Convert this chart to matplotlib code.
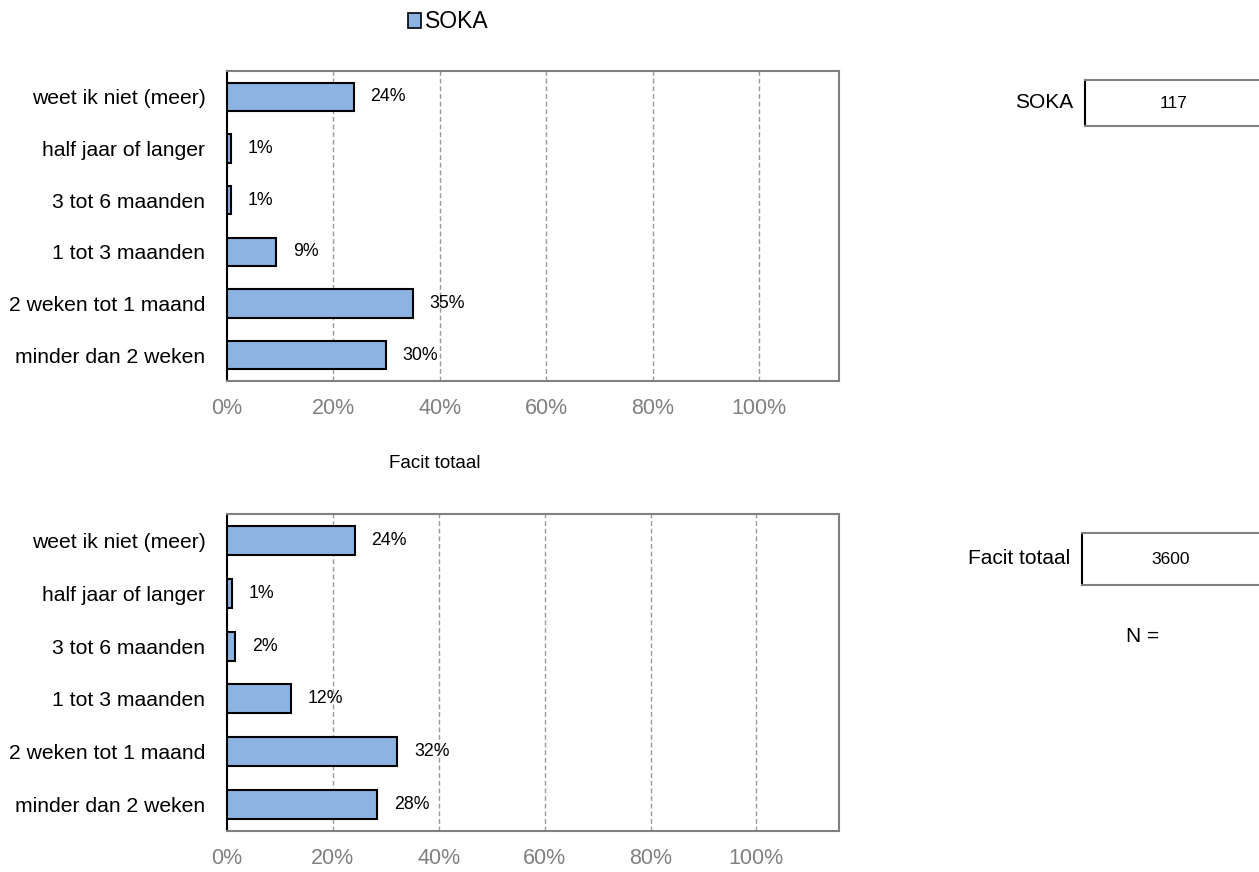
import matplotlib
matplotlib.use("Agg")
import matplotlib.pyplot as plt
from matplotlib.lines import Line2D
from matplotlib.patches import Patch

plt.rcParams['font.family'] = ['Liberation Sans', 'DejaVu Sans']

# === DATOS ===
categories = ["weet ik niet (meer)", "half jaar of langer", "3 tot 6 maanden",
              "1 tot 3 maanden", "2 weken tot 1 maand", "minder dan 2 weken"]
soka_values = [23.8, 0.8, 0.8, 9.3, 34.9, 29.9]
facit_values = [24.1, 1.0, 1.6, 12.0, 32.2, 28.4]
soka_n = 117
facit_n = 3600
xticks = [0, 20, 40, 60, 80, 100]

BAR_COLOR = "#8DB3E2"
W, H = 1259, 872


def px(x0, y0, x1, y1):
    # caja en pixeles (origen arriba-izq) -> rect de figura
    return [x0 / W, 1 - y1 / H, (x1 - x0) / W, (y1 - y0) / H]


fig = plt.figure(figsize=(W / 100, H / 100), dpi=100)


def draw_panel(rect, values, xmax):
    ax = fig.add_axes(rect)
    ypos = list(range(len(categories)))
    ax.barh(ypos, values, height=0.55, color=BAR_COLOR, edgecolor="black", linewidth=1.5, zorder=3)
    for y, v in zip(ypos, values):
        ax.annotate(f"{round(v)}%", (v, y), xytext=(12, 0), textcoords="offset points",
                    va="center", ha="left", fontsize=12.8, zorder=4)
    ax.set_ylim(len(categories) - 0.5, -0.5)
    ax.set_xlim(0, xmax)
    ax.set_yticks(ypos)
    ax.set_yticklabels(categories, fontsize=15.2)
    ax.set_xticks(xticks)
    ax.set_xticklabels([f"{t}%" for t in xticks], fontsize=15.5, color="#808080")
    ax.tick_params(axis="both", length=0)
    ax.tick_params(axis="y", pad=15.5)
    ax.tick_params(axis="x", pad=12)
    for t in xticks[1:]:
        ax.axvline(t, color="#9a9a9a", linestyle=(0, (3.5, 2)), linewidth=1, zorder=1)
    for s in ["top", "right", "bottom"]:
        ax.spines[s].set_color("#808080")
        ax.spines[s].set_linewidth(1.5)
    ax.spines["left"].set_color("black")
    ax.spines["left"].set_linewidth(1.5)
    return ax


ax1 = draw_panel(px(227, 71, 839, 381), soka_values, 115)
ax2 = draw_panel(px(227, 514, 839, 831), facit_values, 115.6)

# leyenda arriba
fig.legend(handles=[Patch(facecolor=BAR_COLOR, edgecolor="black", linewidth=1.2, label="SOKA")],
           loc="center", bbox_to_anchor=(448 / W, 1 - 22 / H), frameon=False,
           fontsize=16.5, handlelength=0.6, handleheight=0.6, handletextpad=0.15)

fig.text(435 / W, 1 - 463 / H, "Facit totaal", ha="center", va="center", fontsize=13.5)


# cajas de N a la derecha
def n_box(label, n, x0, y0, y1):
    fig.add_artist(Line2D([x0 / W, x0 / W], [1 - y0 / H, 1 - y1 / H], color="black", linewidth=1.5))
    for y in (y0, y1):
        fig.add_artist(Line2D([x0 / W, 1], [1 - y / H, 1 - y / H], color="#808080", linewidth=1.5))
    ym = 1 - (y0 + y1) / 2 / H
    fig.text((x0 - 12) / W, ym, label, ha="right", va="center", fontsize=15)
    fig.text((x0 + 89) / W, ym, str(n), ha="center", va="center", fontsize=12.5)


n_box("SOKA", soka_n, 1085, 80, 126)
n_box("Facit totaal", facit_n, 1082, 533, 585)
fig.text(1143 / W, 1 - 636 / H, "N =", ha="center", va="center", fontsize=15)

fig.savefig("out.png", dpi=100)
